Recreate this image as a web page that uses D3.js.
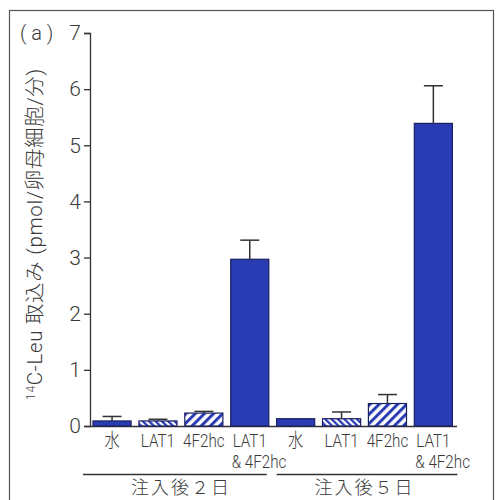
<!DOCTYPE html>
<html>
<head>
<meta charset="utf-8">
<script src="https://cdn.jsdelivr.net/npm/d3@7"></script>
<style>
  body { margin: 0; background: #fff; }
  svg text { fill: #3a3a3a; }
</style>
</head>
<body>
<div id="chart"></div>
<script>
// data
const groups = ["注入後２日", "注入後５日"];
const labels = ["水", "LAT1", "4F2hc", "LAT1|& 4F2hc", "水", "LAT1", "4F2hc", "LAT1|& 4F2hc"];
const groupOf = [0, 0, 0, 0, 1, 1, 1, 1];
const values = [0.09, 0.09, 0.23, 2.97, 0.13, 0.13, 0.40, 5.39];
const errTop = [0.17, 0.12, 0.26, 3.31, null, 0.25, 0.56, 6.06];
const yTicks = [0, 1, 2, 3, 4, 5, 6, 7];

const width = 496, height = 500;
const blue = "#2a3cb4", navy = "#1b2060";

const svg = d3.select("#chart").append("svg")
  .attr("width", width).attr("height", height);

const defs = svg.append("defs");
// dense back-slash hatch (LAT1)
const p1 = defs.append("pattern").attr("id", "hatchDense")
  .attr("patternUnits", "userSpaceOnUse").attr("width", 4.5).attr("height", 4.5)
  .attr("patternTransform", "rotate(-45)");
p1.append("rect").attr("width", 4.5).attr("height", 4.5).attr("fill", "#fff");
p1.append("rect").attr("width", 2.3).attr("height", 4.5).attr("fill", blue);
// wider forward-slash hatch (4F2hc)
const p2 = defs.append("pattern").attr("id", "hatchWide")
  .attr("patternUnits", "userSpaceOnUse").attr("width", 6.5).attr("height", 6.5)
  .attr("patternTransform", "rotate(45)");
p2.append("rect").attr("width", 6.5).attr("height", 6.5).attr("fill", "#fff");
p2.append("rect").attr("width", 3).attr("height", 6.5).attr("fill", blue);

const fillFor = l => l === "LAT1" ? "url(#hatchDense)" : l === "4F2hc" ? "url(#hatchWide)" : blue;

// panel frame
svg.append("rect").attr("x", 9.5).attr("y", 10.5)
  .attr("width", 484).attr("height", 520)
  .attr("fill", "none").attr("stroke", "#555").attr("stroke-width", 1.2);

const ids = labels.map((d, i) => i);
const x = d3.scaleBand().domain(ids).range([88.4, 457]).paddingInner(0.17).paddingOuter(0.1);
const y = d3.scaleLinear().domain([0, 7]).range([426, 33]);

// y axis
const yAxis = svg.append("g").attr("transform", "translate(90,0)")
  .call(d3.axisLeft(y).tickValues(yTicks).tickFormat(d3.format("d")).tickSize(6).tickPadding(3));
yAxis.select(".domain").attr("stroke", "#333").attr("stroke-width", 1.3).attr("d", "M-6,426.5H0.5V33.5H-6");
yAxis.selectAll(".tick line").attr("stroke", "#333").attr("stroke-width", 1.3);
yAxis.selectAll(".tick text")
  .attr("font-family", "Roboto, 'Liberation Sans', sans-serif")
  .attr("font-weight", 300).attr("font-size", 21).attr("fill", "#3a3a3a");

// baseline
svg.append("line").attr("x1", 90).attr("x2", 457).attr("y1", 426.5).attr("y2", 426.5)
  .attr("stroke", "#333").attr("stroke-width", 1.3);

// bars
svg.selectAll("rect.bar").data(ids).enter().append("rect")
  .attr("class", "bar")
  .attr("x", i => x(i)).attr("width", x.bandwidth())
  .attr("y", i => y(values[i])).attr("height", i => y(0) - y(values[i]))
  .attr("fill", i => fillFor(labels[i]))
  .attr("stroke", navy).attr("stroke-width", 1.2);

// error bars (upper only)
const eb = svg.selectAll("g.err").data(ids.filter(i => errTop[i] != null)).enter().append("g")
  .attr("class", "err");
eb.append("line")
  .attr("x1", i => x(i) + x.bandwidth() / 2).attr("x2", i => x(i) + x.bandwidth() / 2)
  .attr("y1", i => y(values[i])).attr("y2", i => y(errTop[i]))
  .attr("stroke", "#333").attr("stroke-width", 1.5);
eb.append("line")
  .attr("x1", i => x(i) + x.bandwidth() / 2 - 9.5).attr("x2", i => x(i) + x.bandwidth() / 2 + 9.5)
  .attr("y1", i => y(errTop[i])).attr("y2", i => y(errTop[i]))
  .attr("stroke", "#333").attr("stroke-width", 1.5);

// category labels
const catFont = "Roboto, 'Liberation Sans', sans-serif";
ids.forEach(i => {
  const cx = x(i) + x.bandwidth() / 2;
  const parts = labels[i].split("|");
  svg.append("text")
    .attr("transform", `translate(${cx},447) scale(0.8,1)`)
    .attr("text-anchor", "middle")
    .attr("font-family", parts[0] === "水" ? "'Noto Sans CJK JP', sans-serif" : catFont)
    .attr("font-weight", 300).attr("font-size", 19)
    .text(parts[0]);
  if (parts[1]) {
    svg.append("text")
      .attr("transform", `translate(${cx - 18},468) scale(0.8,1)`)
      .attr("font-family", catFont).attr("font-weight", 300).attr("font-size", 19)
      .text(parts[1]);
  }
});

// group underlines and labels
groups.forEach((g, gi) => {
  const members = ids.filter(i => groupOf[i] === gi);
  const x0 = x(members[0]) - (gi === 0 ? 10 : 0);
  const x1 = x(members[members.length - 1]) + x.bandwidth() + (gi === 0 ? -2 : 5);
  svg.append("line").attr("x1", x0).attr("x2", x1).attr("y1", 474.5).attr("y2", 474.5)
    .attr("stroke", "#333").attr("stroke-width", 1.3);
  svg.append("text")
    .attr("x", (x(members[0]) + x(members[members.length - 1]) + x.bandwidth()) / 2)
    .attr("y", 494)
    .attr("text-anchor", "middle")
    .attr("font-family", "'Noto Sans CJK JP', sans-serif")
    .attr("font-weight", 300).attr("font-size", 18).attr("letter-spacing", 2)
    .text(g);
});

// panel tag
svg.append("text").attr("x", 20).attr("y", 40)
  .attr("font-family", "Roboto, 'Liberation Sans', sans-serif")
  .attr("font-weight", 300).attr("font-size", 20)
  .attr("xml:space", "preserve")
  .text("( a )");

// y axis title
const yt = svg.append("text")
  .attr("transform", "translate(42,234) rotate(-90)")
  .attr("text-anchor", "middle")
  .attr("font-family", "Roboto, 'Noto Sans CJK JP', sans-serif")
  .attr("font-weight", 300).attr("font-size", 20.5).attr("letter-spacing", 0.7);
yt.append("tspan").attr("font-size", 12).attr("dy", -7).text("14");
yt.append("tspan").attr("dy", 7).text("C-Leu 取込み (pmol/卵母細胞/分)");
</script>
</body>
</html>
